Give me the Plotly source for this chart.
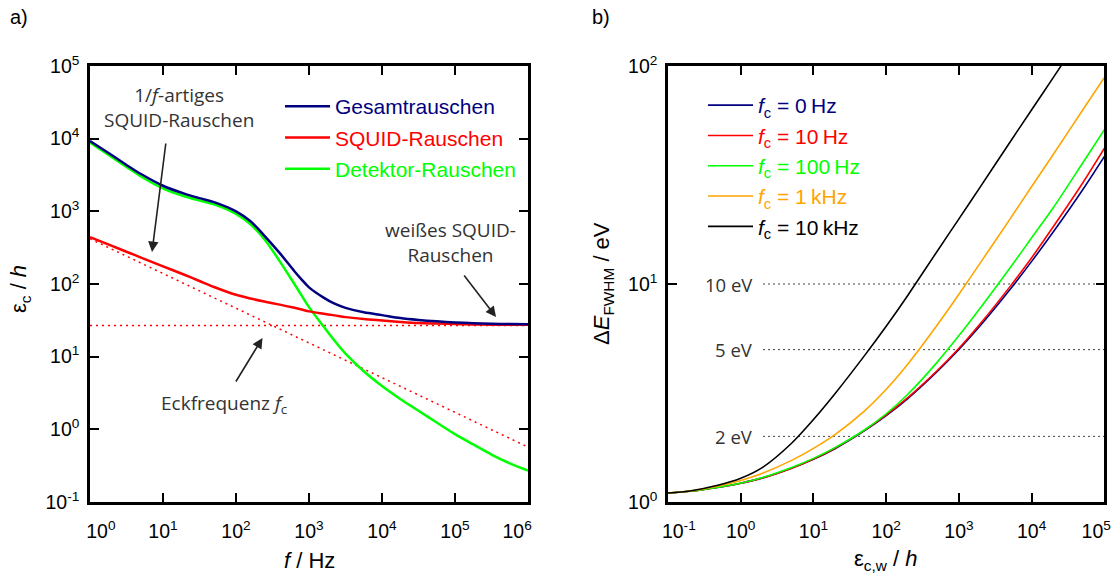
import math
import plotly.graph_objects as go

W, H = 1118, 579

# ---------------- panel a) data (read from the picture) ----------------
freq_hz = [1, 2, 3.16, 5, 10, 20, 31.6, 50, 100, 158, 251, 398, 631, 794, 1000,
           1585, 2239, 3162, 5623, 1e4, 1.778e4, 3.162e4, 5.623e4, 1e5,
           1.778e5, 3.162e5, 5.623e5, 1e6]
total_noise = [9300, 5900, 4350, 3260, 2250, 1740, 1520, 1340, 1000, 730, 450,
               266, 150, 115, 90, 65, 53.5, 47, 40.8, 37.3, 34.0, 32.0, 30.6, 29.6,
               28.9, 28.4, 28.1, 27.9]
squid_noise = [441, 334, 278, 231, 175, 133, 110, 91, 71, 63, 57,
               52, 47, 44.5, 42, 39, 37, 35, 33, 31.5, 30.1, 29.0, 28.5, 28.1,
               27.8, 27.6, 27.5, 27.4]
detector_noise = [8850, 5550, 4080, 3020, 2070, 1600, 1410, 1250, 925, 665, 400,
                  205, 100, 69, 48, 26, 16.6, 11.0, 6.3, 3.95, 2.62, 1.80, 1.24, 0.86,
                  0.62, 0.45, 0.34, 0.27]
asym_freq = [1, 1e6]
squid_1f_part = [419, 0.57]
squid_white_part = [26.8, 26.8]

# ---------------- panel b) data (read from the picture) ----------------
eps_w = [0.1, 0.2, 0.5, 1, 2, 5, 10, 20, 50, 100, 200, 500, 1000, 2000, 5000,
         1e4, 2e4, 5e4, 1e5]
dE_fc_0 = [1.10, 1.12, 1.17, 1.22, 1.29, 1.43, 1.57, 1.76, 2.12, 2.49, 2.99,
           3.96, 5.01, 6.48, 9.40, 12.7, 17.4, 27.0, 38.5]
dE_fc_10 = [1.10, 1.12, 1.17, 1.22, 1.29, 1.43, 1.575, 1.77, 2.13, 2.51, 3.02,
            4.0, 5.07, 6.62, 9.7, 13.2, 18.4, 29.0, 42.0]
dE_fc_100 = [1.10, 1.12, 1.17, 1.22, 1.295, 1.44, 1.585, 1.78, 2.14, 2.54, 3.13,
             4.37, 5.80, 7.83, 11.8, 16.3, 22.5, 35.8, 51.0]
dE_fc_1k = [1.10, 1.124, 1.185, 1.256, 1.355, 1.552, 1.762, 2.044, 2.61, 3.29, 4.31,
            6.47, 8.98, 12.6, 19.8, 28.0, 39.5, 62.7, 88.5]
dE_fc_10k = [1.10, 1.124, 1.196, 1.285, 1.442, 1.86, 2.39, 3.155, 4.68, 6.40, 8.91,
             14.1, 19.9, 28.1, 44.6, 63, 88.9, 141, 199]
ref_levels_eV = [10, 5, 2]
ref_labels = ["10 eV", "5 eV", "2 eV"]

NB = "\u00a0"
tick_a_x = [1, 10, 100, 1e3, 1e4, 1e5, 1e6]
tick_a_x_text = [NB * 4 + "10<sup>0</sup>", "10<sup>1</sup>", "10<sup>2</sup>",
                 "10<sup>3</sup>", "10<sup>4</sup>", "10<sup>5</sup>",
                 "10<sup>6</sup>" + NB * 4]
tick_a_y = [0.1, 1, 10, 100, 1e3, 1e4, 1e5]
tick_a_y_text = ["10<sup>-1</sup>", "10<sup>0</sup>", "10<sup>1</sup>", "10<sup>2</sup>",
                 "10<sup>3</sup>", "10<sup>4</sup>", "10<sup>5</sup>"]
tick_b_x = [0.1, 1, 10, 100, 1e3, 1e4, 1e5]
tick_b_x_text = [NB * 4 + "10<sup>-1</sup>", "10<sup>0</sup>", "10<sup>1</sup>",
                 "10<sup>2</sup>", "10<sup>3</sup>", "10<sup>4</sup>",
                 "10<sup>5</sup>" + NB * 3]
tick_b_y = [1, 10, 100]
tick_b_y_text = ["10<sup>0</sup>", "10<sup>1</sup>", "10<sup>2</sup>"]

NAVY, RED, LIME, ORANGE, BLACK = "#000080", "#ff0000", "#00ff00", "#ffa500", "#000000"
TXT = "#333333"
AX_FONT = "Liberation Sans, Arial, sans-serif"
ANN_FONT = "Open Sans, sans-serif"

fig = go.Figure()

# panel a traces
for yv in (squid_1f_part, squid_white_part):
    fig.add_trace(go.Scatter(x=asym_freq, y=yv, mode="lines", showlegend=False,
                             line=dict(color=RED, width=1.5, dash="2px,4px"),
                             xaxis="x", yaxis="y"))
fig.add_trace(go.Scatter(x=freq_hz, y=detector_noise, mode="lines",
                         name=f"<span style='color:{LIME}'>Detektor-Rauschen</span>",
                         legend="legend", legendgroup="a3", legendrank=3,
                         line=dict(color=LIME, width=2.5, shape="spline", smoothing=0.9),
                         xaxis="x", yaxis="y"))
fig.add_trace(go.Scatter(x=freq_hz, y=squid_noise, mode="lines",
                         name=f"<span style='color:{RED}'>SQUID-Rauschen</span>",
                         legend="legend", legendgroup="a2", legendrank=2,
                         line=dict(color=RED, width=2.5, shape="spline", smoothing=0.9),
                         xaxis="x", yaxis="y"))
fig.add_trace(go.Scatter(x=freq_hz, y=total_noise, mode="lines",
                         name=f"<span style='color:{NAVY}'>Gesamtrauschen</span>",
                         legend="legend", legendgroup="a1", legendrank=1,
                         line=dict(color=NAVY, width=2.5, shape="spline", smoothing=0.9),
                         xaxis="x", yaxis="y"))

# panel b traces
series_b = [
    (dE_fc_0, NAVY, "0\u2009Hz"),
    (dE_fc_10, RED, "10\u2009Hz"),
    (dE_fc_100, LIME, "100\u2009Hz"),
    (dE_fc_1k, ORANGE, "1\u2009kHz"),
    (dE_fc_10k, BLACK, "10\u2009kHz"),
]
for i, (vals, col, lab) in enumerate(series_b):
    fig.add_trace(go.Scatter(
        x=eps_w, y=vals, mode="lines",
        name=f"<span style='color:{col}'><i>f</i><sub>c</sub> = {lab}</span>",
        legend="legend2", legendgroup=f"b{i}",
        line=dict(color=col, width=1.6, shape="spline", smoothing=0.8),
        xaxis="x2", yaxis="y2"))

ydom = [1 - 502 / H, 1 - 66 / H]
axis_common = dict(type="log", showline=True, linewidth=2.5, linecolor="black",
                   mirror="allticks", ticks="inside", ticklen=9, tickwidth=1.6,
                   tickcolor="black", showgrid=False, zeroline=False, automargin=False,
                   ticklabeloverflow="allow",
                   tickfont=dict(family=AX_FONT, size=19.5, color="black"))

fig.update_layout(
    template="none",
    width=W, height=H, autosize=False,
    margin=dict(l=0, r=0, t=0, b=0, pad=0),
    paper_bgcolor="white", plot_bgcolor="white",
    xaxis=dict(domain=[90 / W, 528 / W], range=[0, 6], anchor="y",
               tickvals=tick_a_x, ticktext=tick_a_x_text, ticklabelstandoff=10, **axis_common),
    yaxis=dict(domain=ydom, range=[-1, 5], anchor="x",
               tickvals=tick_a_y, ticktext=tick_a_y_text, ticklabelstandoff=4, **axis_common),
    xaxis2=dict(domain=[668 / W, 1104.4 / W], range=[-1, 5], anchor="y2",
                tickvals=tick_b_x, ticktext=tick_b_x_text, ticklabelstandoff=10, **axis_common),
    yaxis2=dict(domain=ydom, range=[0, 2], anchor="x2",
                tickvals=tick_b_y, ticktext=tick_b_y_text, ticklabelstandoff=4, **axis_common),
    legend=dict(x=280 / W, y=1 - 86 / H, xanchor="left", yanchor="top",
                bgcolor="rgba(0,0,0,0)", borderwidth=0, traceorder="grouped",
                tracegroupgap=1, itemwidth=45, font=dict(family=AX_FONT, size=21)),
    legend2=dict(x=703 / W, y=1 - 85 / H, xanchor="left", yanchor="top",
                 bgcolor="rgba(0,0,0,0)", borderwidth=0, traceorder="grouped",
                 tracegroupgap=0, itemwidth=45, font=dict(family=AX_FONT, size=21)),
)


def px(x):
    return x / W


def py(y):
    return 1 - y / H


ann = []
for t, x in (("a)", 8), ("b)", 590)):
    ann.append(dict(text=t, x=px(x), y=py(17), xref="paper", yref="paper",
                    xanchor="left", yanchor="middle", showarrow=False,
                    font=dict(family=AX_FONT, size=20, color="black")))

titles = [
    ("\u03b5<sub>c</sub> / <i>h</i>", 20, 289, -90),
    ("<i>f</i> / Hz", 309, 560, 0),
    ("\u0394<i>E</i><sub>FWHM</sub> / eV", 603, 284, -90),
    ("\u03b5<sub>c,w</sub> / <i>h</i>", 886, 560, 0),
]
for t, x, y, ang in titles:
    ann.append(dict(text=t, x=px(x), y=py(y), xref="paper", yref="paper",
                    xanchor="center", yanchor="middle", textangle=ang, showarrow=False,
                    font=dict(family=AX_FONT, size=22, color="black")))

notes = [
    ("1/<i>f</i>-artiges<br>SQUID-Rauschen", 179, 107),
    ("weißes SQUID-<br>Rauschen", 450, 242),
    ("Eckfrequenz <i>f</i><sub>c</sub>", 224, 404),
]
for t, x, y in notes:
    ann.append(dict(text=t, x=px(x), y=py(y), xref="paper", yref="paper",
                    xanchor="center", yanchor="middle", showarrow=False,
                    font=dict(family=ANN_FONT, size=19, color=TXT)))

arrows = [((152, 252), (166, 142)), ((496, 317), (463, 274)), ((262.5, 338), (235, 383))]
for (hx, hy), (tx, ty) in arrows:
    ann.append(dict(text="", x=px(hx), y=py(hy), xref="paper", yref="paper",
                    ax=tx - hx, ay=ty - hy, showarrow=True, arrowhead=2, arrowsize=1.3,
                    arrowwidth=1.6, arrowcolor="#222222", standoff=0, startstandoff=0))

shapes = []
for lev, lab in zip(ref_levels_eV, ref_labels):
    ann.append(dict(text=lab, x=px(755), y=math.log10(lev), xref="paper", yref="y2",
                    xanchor="right", yanchor="middle", showarrow=False,
                    font=dict(family=ANN_FONT, size=18.5, color=TXT)))
    shapes.append(dict(type="line", xref="x2 domain", yref="y2", x0=(763 - 668) / 436.4, x1=1,
                       y0=lev, y1=lev, line=dict(color="#444444", width=1, dash="2px,3px"),
                       layer="below"))

fig.update_layout(annotations=ann, shapes=shapes)

fig.write_html("out.html", config={"displayModeBar": False})
